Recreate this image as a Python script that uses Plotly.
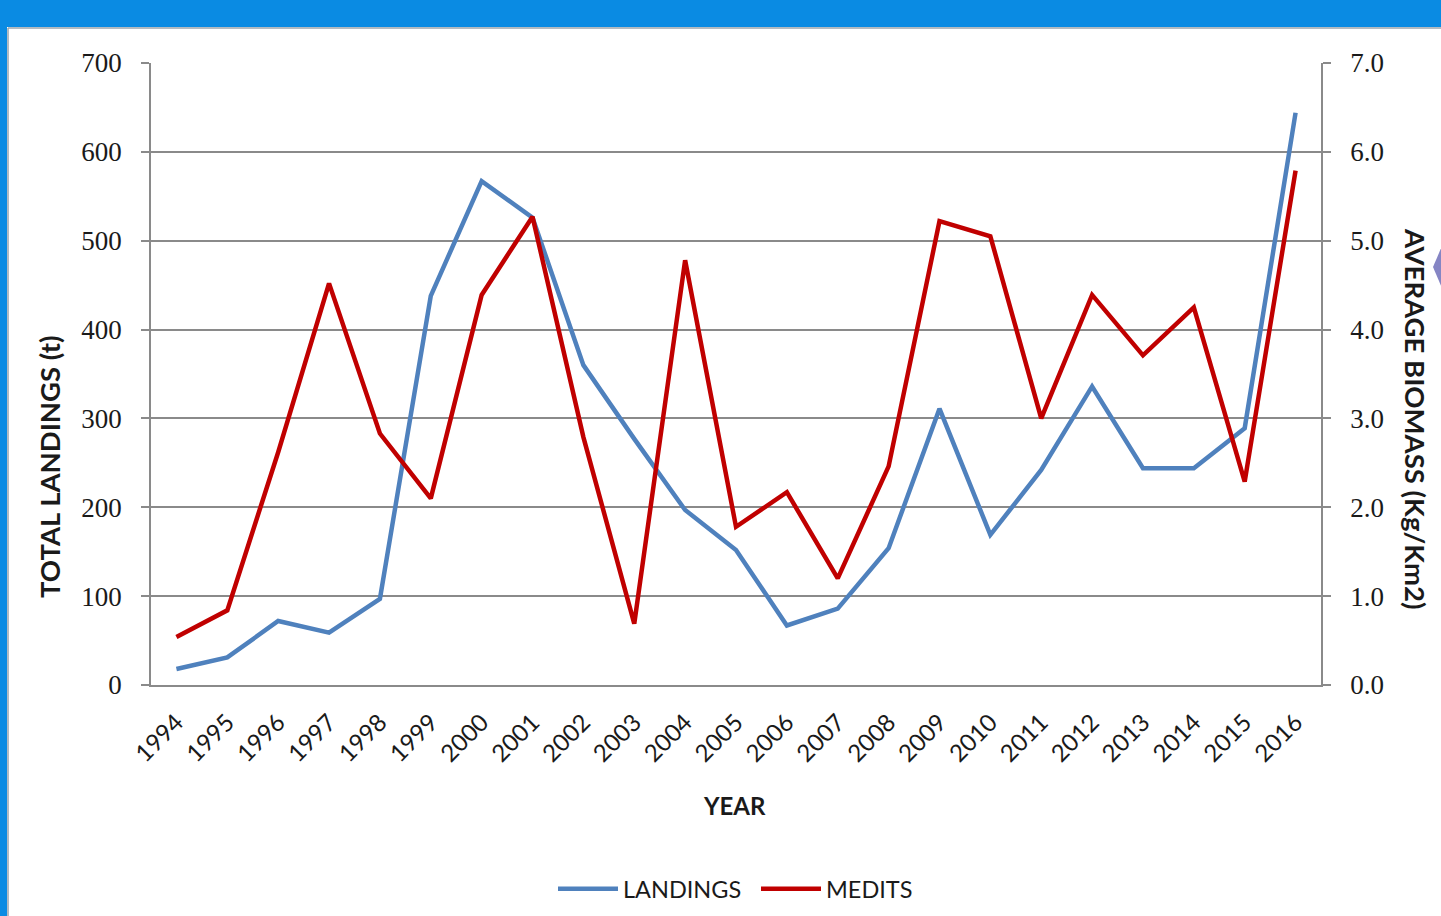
import plotly.graph_objects as go

# Annual series
years = [str(y) for y in range(1994, 2017)]
landings_t = [18, 31, 72, 59, 97, 438, 567, 526, 360, 277, 197, 152, 67, 86,
              154, 311, 169, 242, 336, 244, 244, 289, 644]
medits_biomass = [0.54, 0.84, 2.62, 4.52, 2.83, 2.10, 4.39, 5.27, 2.79, 0.69,
                  4.78, 1.78, 2.17, 1.20, 2.46, 5.22, 5.05, 3.00, 4.39, 3.71,
                  4.25, 2.29, 5.79]

left_ticks = [0, 100, 200, 300, 400, 500, 600, 700]
right_ticks = [0, 1, 2, 3, 4, 5, 6, 7]

W, H = 1441, 916
L, R, T, B = 151, 120, 63, 231
PW, PH = W - L - R, H - T - B


def px(x):
    return (x - L) / PW


def py(y):
    return (H - B - y) / PH


GRID = "#8a8a8a"
FRAME = "#0a8be3"
SANS = "Lato"
SERIF = "Liberation Serif"
INK = "#1a1a1a"

fig = go.Figure()
fig.add_trace(go.Scatter(x=years, y=landings_t, name="LANDINGS", mode="lines",
                         line=dict(color="#4f81bd", width=4.5)))
fig.add_trace(go.Scatter(x=years, y=medits_biomass, name="MEDITS", mode="lines",
                         yaxis="y2", line=dict(color="#c00000", width=4.5)))

shapes = [
    # blue slide frame: top bar and left strip
    dict(type="rect", xref="paper", yref="paper", layer="above",
         x0=px(-5), x1=px(1450), y0=py(-5), y1=py(27),
         fillcolor=FRAME, line=dict(width=0)),
    dict(type="rect", xref="paper", yref="paper", layer="above",
         x0=px(-5), x1=px(7), y0=py(-5), y1=py(925),
         fillcolor=FRAME, line=dict(width=0)),
    # thin border of the white panel
    dict(type="line", xref="paper", yref="paper", layer="above",
         x0=px(8), x1=px(1445), y0=py(28), y1=py(28),
         line=dict(color="#9aa4ad", width=1.5)),
    dict(type="line", xref="paper", yref="paper", layer="above",
         x0=px(8), x1=px(8), y0=py(28), y1=py(925),
         line=dict(color="#9aa4ad", width=1.5)),
    # arrow tip at the right edge
    dict(type="path", xref="paper", yref="paper", layer="above",
         path=f"M {px(1442)} {py(246)} L {px(1433)} {py(267)} L {px(1442)} {py(288)} Z",
         fillcolor="#8585c4", line=dict(width=0)),
]

annotations = [
    dict(text="<b>TOTAL LANDINGS (t)</b>", xref="paper", yref="paper",
         x=px(50), y=py(467), xanchor="center", yanchor="middle",
         showarrow=False, textangle=-90,
         font=dict(family=SANS, size=27.5, color=INK)),
    dict(text="<b>AVERAGE BIOMASS (Kg/Km2)</b>", xref="paper", yref="paper",
         x=px(1416), y=py(419), xanchor="center", yanchor="middle",
         showarrow=False, textangle=90,
         font=dict(family=SANS, size=27.5, color=INK)),
    dict(text="<b>YEAR</b>", xref="paper", yref="paper",
         x=px(734), y=py(805), xanchor="center", yanchor="middle",
         showarrow=False, font=dict(family=SANS, size=24, color=INK)),
]

fig.update_layout(
    width=W, height=H,
    margin=dict(l=L, r=R, t=T, b=B, pad=0, autoexpand=False),
    paper_bgcolor="white",
    plot_bgcolor="white",
    shapes=shapes,
    annotations=annotations,
    showlegend=True,
    legend=dict(orientation="h", x=px(553), xanchor="left", y=py(889),
                yanchor="middle", font=dict(family=SANS, size=23.5, color=INK),
                bgcolor="rgba(0,0,0,0)", tracegroupgap=0, itemwidth=60,
                entrywidth=128, entrywidthmode="pixels"),
    xaxis=dict(type="category", range=[-0.5, 22.5], tickangle=-45,
               showgrid=False, showline=True, linecolor=GRID, linewidth=1.5,
               ticks="", tickfont=dict(family=SANS, size=24, color=INK),
               ticklabelstandoff=12),
    yaxis=dict(range=[0, 700], tickvals=left_ticks, showgrid=True,
               gridcolor=GRID, gridwidth=1.5, zeroline=False, showline=True,
               linecolor=GRID, linewidth=1.5, ticks="outside", ticklen=8,
               tickcolor=GRID, tickwidth=1.5, ticklabelstandoff=14,
               tickfont=dict(family=SERIF, size=27, color=INK)),
    yaxis2=dict(range=[0, 7], tickvals=right_ticks, tickformat=".1f",
                overlaying="y", side="right", showgrid=False, zeroline=False,
                showline=True, linecolor=GRID, linewidth=1.5, ticks="outside",
                ticklen=8, tickcolor=GRID, tickwidth=1.5, ticklabelstandoff=14,
                tickfont=dict(family=SERIF, size=27, color=INK)),
)

fig.write_html("out.html")
